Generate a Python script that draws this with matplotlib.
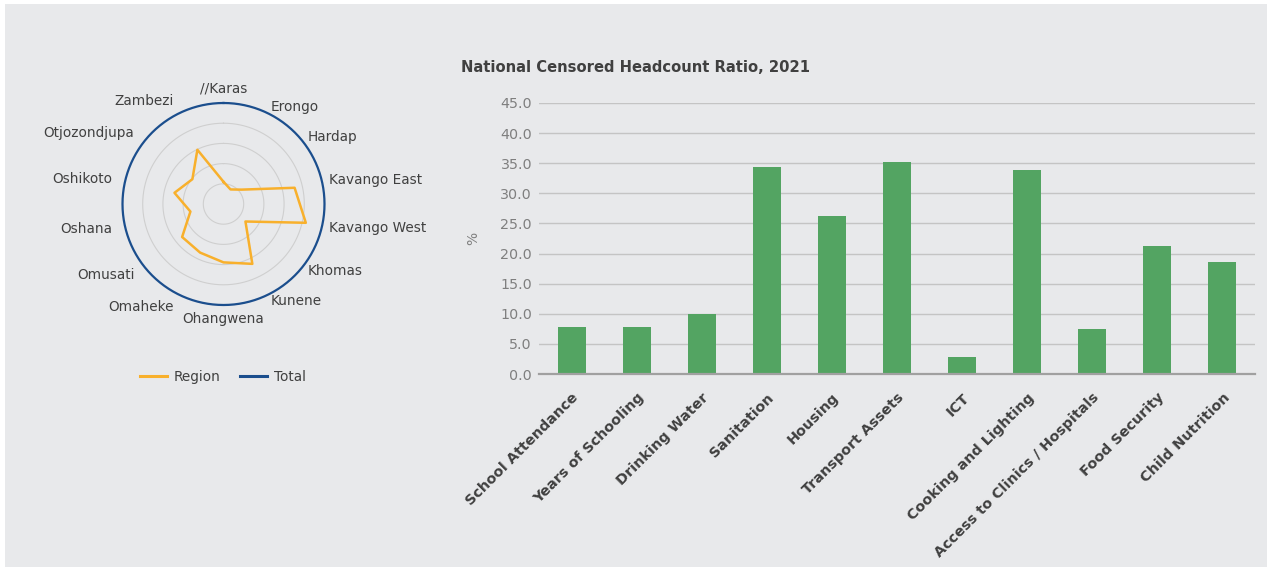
import numpy as np
import matplotlib
matplotlib.use("Agg")
import matplotlib.pyplot as plt
from matplotlib.lines import Line2D
from matplotlib.patches import Rectangle

plt.rcParams['font.family'] = ['DejaVu Sans']

# radar: regions clockwise from the top
regions = ["//Karas", "Erongo", "Hardap", "Kavango East", "Kavango West", "Khomas",
           "Kunene", "Ohangwena", "Omaheke", "Omusati", "Oshana", "Oshikoto",
           "Otjozondjupa", "Zambezi"]
region_values = [11.0, 8.0, 11.4, 36.1, 41.8, 13.9, 32.9, 28.9, 26.7, 26.2, 16.8, 24.9, 19.7, 29.8]
total_value = 50.0
radar_rings = [10, 20, 30, 40]

# bar chart
dimensions = ["School Attendance", "Years of Schooling", "Drinking Water", "Sanitation",
              "Housing", "Transport Assets", "ICT", "Cooking and Lighting",
              "Access to Clinics / Hospitals", "Food Security", "Child Nutrition"]
headcount = [7.8, 7.8, 10.0, 34.4, 26.3, 35.2, 2.8, 33.9, 7.5, 21.3, 18.6]
y_ticks = [0, 5, 10, 15, 20, 25, 30, 35, 40, 45]

BG = "#E8E9EB"
ORANGE = "#F8B02C"
NAVY = "#1B4E8D"
GREEN = "#53A462"
DARK = "#404040"
GREY = "#7F7F7F"

W, H = 1271, 570
fig = plt.figure(figsize=(W / 100, H / 100), dpi=100, facecolor="white")
fig.patches.append(Rectangle((5 / W, 3 / H), 1 - 9 / W, 1 - 7 / H, transform=fig.transFigure,
                             facecolor=BG, edgecolor="none", zorder=-10))

# ---- radar ----
cx, cy, R = 223.5, 204, 101
ax_r = fig.add_axes([(cx - R) / W, (H - cy - R) / H, 2 * R / W, 2 * R / H], projection="polar")
ax_r.set_facecolor("none")
ax_r.set_theta_zero_location("N")
ax_r.set_theta_direction(-1)
ax_r.set_ylim(0, total_value)

n = len(regions)
theta = np.arange(n) * 2 * np.pi / n
full = np.linspace(0, 2 * np.pi, 361)
for ring in radar_rings:
    ax_r.plot(full, [ring] * len(full), color="#CFCFCF", lw=0.8, zorder=1)
ax_r.plot(np.append(theta, theta[0]), region_values + region_values[:1], color=ORANGE, lw=1.8, zorder=3)
ax_r.plot(full, [total_value] * len(full), color=NAVY, lw=1.6, zorder=4, clip_on=False)

ax_r.grid(False)
ax_r.set_xticks([])
ax_r.set_yticks([])
ax_r.spines["polar"].set_visible(False)

for t, name in zip(theta, regions):
    s, c = np.sin(t), np.cos(t)
    r = total_value * (1.07 if s >= 0 else 1.13)
    if abs(s) < 0.1:
        ha = "center"
        va = "bottom" if c > 0 else "top"
    else:
        ha = "left" if s > 0 else "right"
        va = "center"
    ax_r.text(t, r, name, ha=ha, va=va, fontsize=9.8, color=DARK, clip_on=False)

handles = [Line2D([], [], color=ORANGE, lw=2.2, label="Region"),
           Line2D([], [], color=NAVY, lw=2.2, label="Total")]
fig.legend(handles=handles, loc="center", bbox_to_anchor=(223 / W, 1 - 377 / H), ncol=2,
           frameon=False, fontsize=9.8, handlelength=2.0, columnspacing=1.4, handletextpad=0.5,
           labelcolor=DARK)

# ---- bars ----
x0, x1, ytop, ybot = 539, 1255, 103, 374
ax = fig.add_axes([x0 / W, (H - ybot) / H, (x1 - x0) / W, (ybot - ytop) / H])
ax.set_facecolor("none")
x = np.arange(len(dimensions))
ax.bar(x, headcount, width=0.43, color=GREEN, zorder=3)
ax.set_xlim(-0.5, len(dimensions) - 0.5)
ax.set_ylim(0, 45)
ax.set_yticks(y_ticks)
ax.set_yticklabels([f"{v:.1f}" for v in y_ticks], color=GREY, fontsize=10.3)
ax.yaxis.grid(True, color="#C4C4C4", lw=1.0, zorder=0)
ax.set_axisbelow(True)
for sp in ["top", "right", "left"]:
    ax.spines[sp].set_visible(False)
ax.spines["bottom"].set_color("#A0A0A0")
ax.spines["bottom"].set_linewidth(1.6)
ax.spines["bottom"].set_zorder(4)
ax.tick_params(axis="y", length=0, pad=5)
ax.tick_params(axis="x", length=0, pad=12)
ax.set_xticks(x)
ax.set_xticklabels(dimensions, rotation=45, ha="right", rotation_mode="anchor",
                   fontsize=10.4, fontweight="bold", color=DARK)
ax.set_ylabel("%", color=GREY, fontsize=10, labelpad=14)
fig.text(461 / W, 1 - 67 / H, "National Censored Headcount Ratio, 2021", ha="left", va="center",
         fontsize=10.6, fontweight="bold", color=DARK)

fig.savefig("out.png", dpi=100, facecolor=fig.get_facecolor())
